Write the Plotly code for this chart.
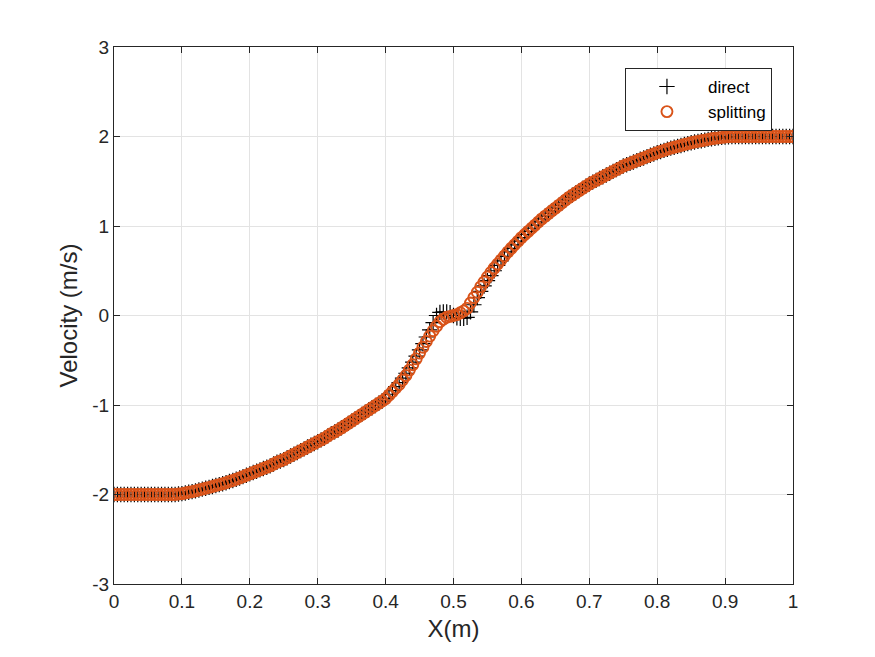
import numpy as np
import plotly.graph_objects as go

# x grid (0 to 1, step 0.005)
x_vals = np.linspace(0.0, 1.0, 201)

splitting = [
    -2.00, -2.00, -2.00, -2.00, -2.00, -2.00, -2.00, -2.00, -2.00, -2.00,
    -2.00, -2.00, -2.00, -2.00, -2.00, -2.00, -2.00, -2.00, -2.00,
    -1.995, -1.99, -1.983, -1.975, -1.968, -1.96, -1.95, -1.94, -1.93, -1.92,
    -1.91, -1.90, -1.89, -1.88, -1.868, -1.855, -1.843, -1.83, -1.815, -1.80,
    -1.785, -1.77, -1.755, -1.74, -1.725, -1.71, -1.695, -1.68, -1.66, -1.64,
    -1.625, -1.61, -1.59, -1.57, -1.55, -1.53, -1.51, -1.49, -1.47, -1.45,
    -1.43, -1.41, -1.39, -1.37, -1.345, -1.32, -1.30, -1.28, -1.255, -1.23,
    -1.205, -1.18, -1.155, -1.13, -1.105, -1.08, -1.055, -1.03, -1.005, -0.98,
    -0.955, -0.93, -0.89, -0.85, -0.81, -0.77, -0.72, -0.67, -0.61, -0.55,
    -0.485, -0.42, -0.355, -0.29, -0.23, -0.17, -0.12, -0.07, -0.04, -0.02,
    -0.01, 0.00, 0.01, 0.03, 0.05, 0.08, 0.14, 0.20, 0.26, 0.32,
    0.375, 0.43, 0.48, 0.53, 0.575, 0.62, 0.665, 0.71, 0.75, 0.79,
    0.83, 0.87, 0.905, 0.94, 0.975, 1.01, 1.045, 1.08, 1.11, 1.14,
    1.17, 1.20, 1.23, 1.26, 1.29, 1.32, 1.345, 1.37, 1.395, 1.42,
    1.445, 1.47, 1.49, 1.51, 1.53, 1.55, 1.57, 1.59, 1.61, 1.63,
    1.65, 1.67, 1.685, 1.70, 1.715, 1.73, 1.745, 1.76, 1.775, 1.79,
    1.805, 1.82, 1.833, 1.845, 1.858, 1.87, 1.88, 1.89, 1.90, 1.91,
    1.92, 1.93, 1.938, 1.945, 1.953, 1.96, 1.968, 1.975, 1.98, 1.985,
    1.99, 1.995, 1.998,
    2.00, 2.00, 2.00, 2.00, 2.00, 2.00, 2.00, 2.00, 2.00, 2.00,
    2.00, 2.00, 2.00, 2.00, 2.00, 2.00, 2.00, 2.00, 2.00,
]

direct = [
    -2.00, -2.00, -2.00, -2.00, -2.00, -2.00, -2.00, -2.00, -2.00, -2.00,
    -2.00, -2.00, -2.00, -2.00, -2.00, -2.00, -2.00, -2.00, -2.00,
    -1.995, -1.99, -1.983, -1.975, -1.968, -1.96, -1.95, -1.94, -1.93, -1.92,
    -1.91, -1.90, -1.89, -1.88, -1.868, -1.855, -1.843, -1.83, -1.815, -1.80,
    -1.785, -1.77, -1.755, -1.74, -1.725, -1.71, -1.695, -1.68, -1.66, -1.64,
    -1.625, -1.61, -1.59, -1.57, -1.55, -1.53, -1.51, -1.49, -1.47, -1.45,
    -1.43, -1.41, -1.39, -1.37, -1.345, -1.32, -1.30, -1.28, -1.255, -1.23,
    -1.205, -1.18, -1.155, -1.13, -1.105, -1.08, -1.055, -1.03, -1.005, -0.98,
    -0.955, -0.925, -0.88, -0.84, -0.795, -0.75, -0.70, -0.645, -0.585, -0.52,
    -0.455, -0.385, -0.315, -0.24, -0.16, -0.08, 0.00, 0.035, 0.04, 0.04,
    0.03, 0.00, -0.025, -0.03, -0.03, -0.02, 0.04, 0.12, 0.20, 0.27,
    0.33, 0.39, 0.445, 0.50, 0.56, 0.61, 0.66, 0.71, 0.75, 0.79,
    0.83, 0.87, 0.905, 0.94, 0.975, 1.01, 1.045, 1.08, 1.11, 1.14,
    1.17, 1.20, 1.23, 1.26, 1.29, 1.32, 1.345, 1.37, 1.395, 1.42,
    1.445, 1.47, 1.49, 1.51, 1.53, 1.55, 1.57, 1.59, 1.61, 1.63,
    1.65, 1.67, 1.685, 1.70, 1.715, 1.73, 1.745, 1.76, 1.775, 1.79,
    1.805, 1.82, 1.833, 1.845, 1.858, 1.87, 1.88, 1.89, 1.90, 1.91,
    1.92, 1.93, 1.938, 1.945, 1.953, 1.96, 1.968, 1.975, 1.98, 1.985,
    1.99, 1.995, 1.998,
    2.00, 2.00, 2.00, 2.00, 2.00, 2.00, 2.00, 2.00, 2.00, 2.00,
    2.00, 2.00, 2.00, 2.00, 2.00, 2.00, 2.00, 2.00, 2.00,
]

x_ticks = [0, 0.1, 0.2, 0.3, 0.4, 0.5, 0.6, 0.7, 0.8, 0.9, 1]
x_ticklabels = ["0", "0.1", "0.2", "0.3", "0.4", "0.5", "0.6", "0.7", "0.8", "0.9", "1"]
y_ticks = [-3, -2, -1, 0, 1, 2, 3]
y_ticklabels = ["-3", "-2", "-1", "0", "1", "2", "3"]

FONT = "Liberation Sans, Arial, Helvetica, sans-serif"
AX = "#262626"

fig = go.Figure()
fig.add_trace(go.Scatter(
    x=x_vals, y=direct, mode="markers", name="direct",
    marker=dict(symbol="cross-thin-open", size=11, color="black",
                line=dict(color="black", width=1.2)),
))
fig.add_trace(go.Scatter(
    x=x_vals, y=splitting, mode="markers", name="splitting",
    marker=dict(symbol="circle-open", size=11, color="#D95319",
                line=dict(color="#D95319", width=1.9)),
))

axis_common = dict(
    showgrid=True, gridcolor="#e3e3e3", gridwidth=1,
    zeroline=False, showline=True, linecolor=AX, linewidth=1,
    mirror="ticks", ticks="inside", ticklen=6, tickcolor=AX, tickwidth=1,
    tickfont=dict(family=FONT, size=19, color=AX),
)

fig.update_layout(
    width=875, height=657,
    margin=dict(l=114, r=82, t=47, b=73, autoexpand=False),
    paper_bgcolor="white", plot_bgcolor="white",
    font=dict(family=FONT, color=AX),
    xaxis=dict(range=[0, 1], tickvals=x_ticks, ticktext=x_ticklabels,
               title=dict(text="X(m)", font=dict(family=FONT, size=24, color=AX), standoff=9),
               **axis_common),
    yaxis=dict(range=[-3, 3], tickvals=y_ticks, ticktext=y_ticklabels,
               title=dict(text="Velocity (m/s)", font=dict(family=FONT, size=24, color=AX), standoff=7),
               **axis_common),
    legend=dict(x=0.969, y=0.961, xanchor="right", yanchor="top",
                bgcolor="white", bordercolor=AX, borderwidth=1,
                font=dict(family=FONT, size=17, color="black"),
                itemwidth=72, tracegroupgap=0),
    showlegend=True,
)

fig.write_html("out.html")
